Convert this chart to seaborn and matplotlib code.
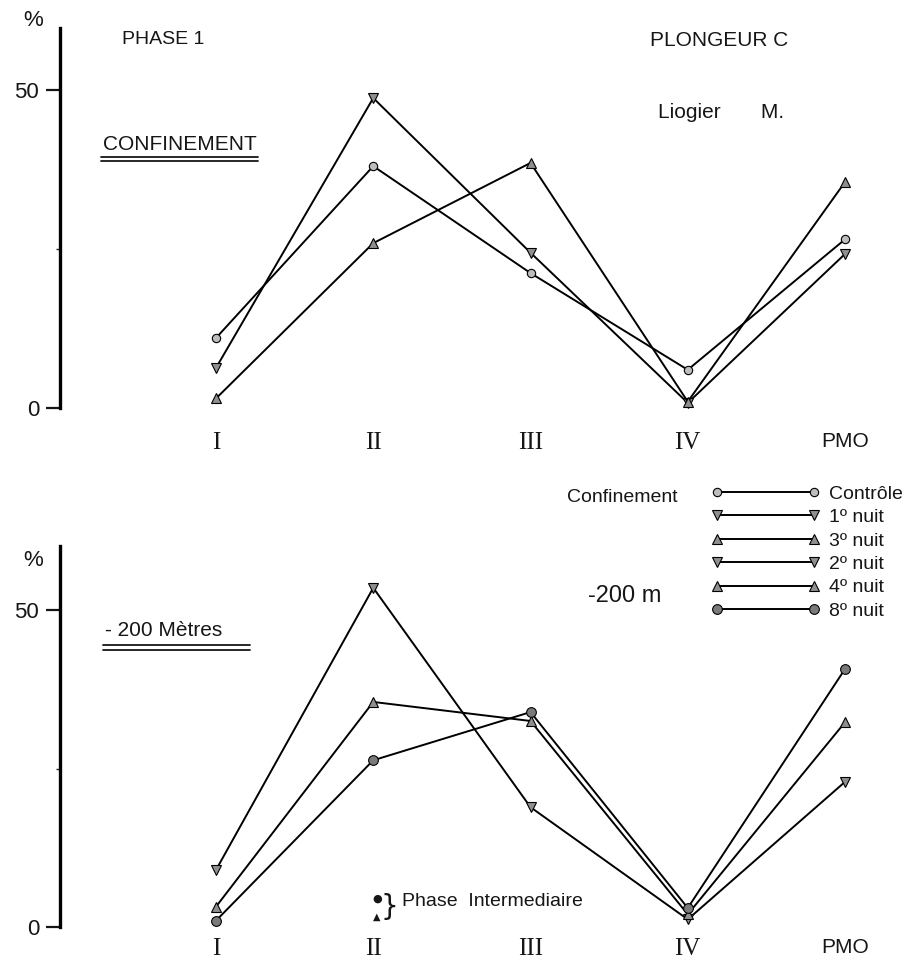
import numpy as np
import pandas as pd
import matplotlib
matplotlib.use("Agg")
import matplotlib.pyplot as plt
from matplotlib.lines import Line2D
import seaborn as sns

# ---------------- data ----------------
categories = ["I", "II", "III", "IV", "PMO"]
# Confinement panel
controle = [11.0, 38.0, 21.2, 6.0, 26.5]
nuit1 = [6.3, 48.7, 24.4, 0.8, 24.2]
nuit3 = [1.5, 25.9, 38.5, 1.0, 35.5]
# -200 m panel
nuit2 = [9.0, 53.5, 18.9, 1.2, 22.9]
nuit4 = [3.2, 35.5, 32.5, 2.0, 32.3]
nuit8 = [1.0, 26.3, 33.9, 3.0, 40.7]
yticks = [0, 50]
ytick_labels = ["0", "50"]

sns.set_theme(style="white")
plt.rcParams["font.family"] = ["Liberation Sans", "DejaVu Sans"]

W, H = 908, 965
fig = plt.figure(figsize=(W / 100, H / 100), dpi=100)
fig.patch.set_facecolor("white")
INK = "#161616"


def rect(left, top, right, bottom):
    return [left / W, 1 - bottom / H, (right - left) / W, (bottom - top) / H]


def ftext(x, y, s, size=14, ha="left", va="center", **kw):
    fig.text(x / W, 1 - y / H, s, fontsize=size, ha=ha, va=va, color=INK, **kw)


def hline(x0, x1, y, lw=1.3):
    fig.add_artist(Line2D([x0 / W, x1 / W], [1 - y / H, 1 - y / H],
                          transform=fig.transFigure, color=INK, lw=lw))


ax1 = fig.add_axes(rect(60, 28, 890, 408))
ax2 = fig.add_axes(rect(60, 546, 890, 927))
xpos = np.arange(len(categories))

styles = {
    "Contrôle": dict(marker="o", markersize=6, markerfacecolor="#bdbdbd"),
    "1º nuit": dict(marker="v", markersize=7, markerfacecolor="#8f8f8f"),
    "3º nuit": dict(marker="^", markersize=7, markerfacecolor="#8f8f8f"),
    "2º nuit": dict(marker="v", markersize=7, markerfacecolor="#8f8f8f"),
    "4º nuit": dict(marker="^", markersize=7, markerfacecolor="#8f8f8f"),
    "8º nuit": dict(marker="o", markersize=7, markerfacecolor="#7a7a7a"),
}

handles = {}
for ax, series in [(ax1, [("Contrôle", controle), ("1º nuit", nuit1), ("3º nuit", nuit3)]),
                   (ax2, [("2º nuit", nuit2), ("4º nuit", nuit4), ("8º nuit", nuit8)])]:
    for name, vals in series:
        sns.lineplot(x=xpos, y=vals, ax=ax, color="black", lw=1.4,
                     markeredgecolor="black", markeredgewidth=0.8,
                     clip_on=False, **styles[name])
        handles[name] = ax.lines[-1]

for ax, ytop, xpad in [(ax1, 59.7, 17), (ax2, 60.1, 8)]:
    ax.set_xlim(-0.992, 4.286)
    ax.set_ylim(0, ytop)
    ax.set_facecolor("white")
    for s in ["top", "right", "bottom"]:
        ax.spines[s].set_visible(False)
    ax.spines["left"].set_linewidth(2.4)
    ax.spines["left"].set_color("black")
    ax.set_yticks(yticks)
    ax.set_yticklabels(ytick_labels)
    ax.set_yticks([25], minor=True)
    ax.tick_params(axis="y", which="major", direction="out", length=10, width=1.6,
                   left=True, labelsize=16, pad=5, colors=INK)
    ax.tick_params(axis="y", which="minor", direction="out", length=3, width=1.0, left=True)
    ax.set_xticks(xpos)
    ax.set_xticklabels(categories)
    ax.tick_params(axis="x", length=0, labelsize=15, pad=xpad, colors=INK)
    for lab in ax.get_xticklabels():
        if lab.get_text() != "PMO":
            lab.set_fontfamily(["Liberation Serif", "DejaVu Serif"])
            lab.set_fontsize(18)
    ax.set_xlabel("")
    ax.set_ylabel("")
    ax.grid(False)

# ---------------- texts ----------------
ftext(33, 20, "%", size=16, ha="center")
ftext(33, 560, "%", size=16, ha="center")
ftext(122, 40, "PHASE 1", size=14)
ftext(650, 40, "PLONGEUR C", size=15)
ftext(658, 112, "Liogier       M.", size=15)
ftext(103, 145, "CONFINEMENT", size=15)
hline(101, 258, 157)
hline(101, 258, 161)
ftext(105, 631, "- 200 Mètres", size=15)
hline(103, 250, 645)
hline(103, 250, 650)
ftext(567, 497, "Confinement", size=14)
ftext(588, 596, "-200 m", size=17)

# legend
order = ["Contrôle", "1º nuit", "3º nuit", "2º nuit", "4º nuit", "8º nuit"]
leg = fig.legend([handles[k] for k in order], order, loc="upper left",
                 bbox_to_anchor=(711 / W, 1 - 485 / H), frameon=False,
                 numpoints=2, handlelength=5.6, handletextpad=0.45,
                 labelspacing=0.3, borderpad=0, borderaxespad=0, fontsize=14)
for t in leg.get_texts():
    t.set_color(INK)

# Phase intermediaire note
ftext(377, 899, "●", size=8, ha="center", family="DejaVu Sans")
ftext(377, 917, "▲", size=7, ha="center", family="DejaVu Sans")
ftext(389, 907, "}", size=20, ha="center", family="DejaVu Sans")
ftext(402, 901, "Phase  Intermediaire", size=14)

fig.savefig("out.png", dpi=100, facecolor="white")
